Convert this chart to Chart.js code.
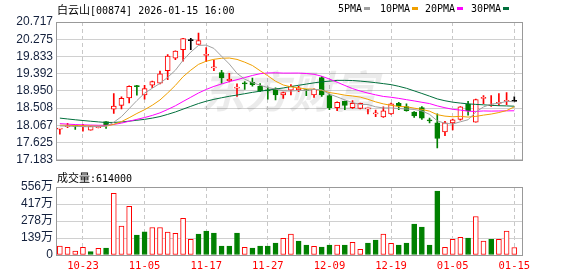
<!DOCTYPE html>
<html>
<head>
<meta charset="utf-8">
<script src="https://cdn.jsdelivr.net/npm/chart.js@4"></script>
<style>
  html, body { margin: 0; padding: 0; background: #fff; }
  #wrap { position: relative; width: 578px; height: 276px; overflow: hidden;
          font-family: "DejaVu Sans Mono", "Noto Sans CJK SC", monospace; font-size: 10px; color: #000; }
  canvas { position: absolute; left: 0; }
  #kline { top: 0; }
  #vol { top: 170px; }
  .txt { position: absolute; white-space: nowrap; line-height: 12px; }
  .cn { font-family: "Noto Sans CJK SC"; font-size: 11px; }
  .key { display: inline-block; width: 6px; height: 3px; margin-left: 2px; vertical-align: 2px; }
</style>
</head>
<body>
<div id="wrap">
  <canvas id="kline" width="578" height="170"></canvas>
  <canvas id="vol" width="578" height="106"></canvas>
  <div class="txt" style="left:57px;top:3px"><span class="cn">白云山</span>[00874] 2026-01-15 16:00</div>
  <div class="txt" style="left:57px;top:171px"><span class="cn">成交量</span>:614000</div>
  <div id="legend"></div>
</div>
<script>
// trading days shown (HK market, 00874)
const dates = [
  "10-20", "10-21", "10-22", "10-23", "10-24", "10-27", "10-28", "10-30", "10-31", "11-03",
  "11-04", "11-05", "11-06", "11-07", "11-10", "11-11", "11-12", "11-13", "11-14", "11-17",
  "11-18", "11-19", "11-20", "11-21", "11-24", "11-25", "11-26", "11-27", "11-28", "12-01",
  "12-02", "12-03", "12-04", "12-05", "12-08", "12-09", "12-10", "12-11", "12-12", "12-15",
  "12-16", "12-17", "12-18", "12-19", "12-22", "12-23", "12-24", "12-29", "12-30", "12-31",
  "01-02", "01-05", "01-06", "01-07", "01-08", "01-09", "01-12", "01-13", "01-14", "01-15"
];

const open = [
  17.97, 18.03, 18.05, 18.03, 17.94, 18.01, 18.16, 18.48, 18.58, 18.77,
  19.07, 18.85, 19.10, 19.15, 19.47, 19.79, 20.01, 20.24, 20.14, 19.86,
  19.54, 19.42, 19.21, 19.02, 19.15, 19.17, 19.07, 18.97, 19.01, 18.85,
  18.97, 18.98, 18.97, 18.85, 19.29, 18.83, 18.52, 18.68, 18.52, 18.50,
  18.49, 18.36, 18.28, 18.36, 18.63, 18.55, 18.41, 18.52, 18.20, 18.13,
  17.90, 18.13, 18.22, 18.61, 18.15, 18.76, 18.57, 18.63, 18.68, 18.68
];
const high = [
  17.99, 18.12, 18.07, 18.09, 18.05, 18.04, 18.16, 18.88, 18.80, 19.08,
  19.09, 19.09, 19.20, 19.46, 19.88, 19.98, 20.30, 20.30, 20.43, 20.06,
  19.74, 19.48, 19.40, 19.13, 19.19, 19.28, 19.14, 19.05, 19.03, 18.92,
  19.11, 19.07, 18.99, 19.00, 19.32, 18.86, 18.67, 18.69, 18.70, 18.64,
  18.51, 18.46, 18.54, 18.64, 18.66, 18.62, 18.42, 18.55, 18.25, 18.36,
  18.17, 18.23, 18.55, 18.68, 18.74, 18.83, 18.83, 18.88, 18.91, 18.80
];
const low = [
  17.84, 18.01, 17.96, 17.92, 17.94, 18.00, 17.99, 18.37, 18.49, 18.64,
  18.84, 18.74, 19.03, 19.13, 19.24, 19.75, 19.71, 20.01, 20.14, 19.70,
  19.47, 19.14, 19.18, 18.81, 18.99, 19.07, 18.93, 18.74, 18.72, 18.76,
  18.85, 18.93, 18.83, 18.78, 18.81, 18.47, 18.44, 18.47, 18.50, 18.49,
  18.36, 18.29, 18.27, 18.35, 18.47, 18.43, 18.27, 18.22, 18.13, 17.49,
  17.80, 17.95, 18.20, 18.33, 18.15, 18.62, 18.55, 18.58, 18.60, 18.68
];
const close = [
  17.98, 18.05, 18.04, 18.04, 18.04, 18.03, 18.06, 18.56, 18.76, 19.07,
  19.06, 19.01, 19.19, 19.39, 19.84, 19.97, 20.29, 20.24, 20.24, 19.88,
  19.55, 19.28, 19.25, 19.04, 19.13, 19.11, 18.95, 18.95, 18.85, 18.91,
  19.07, 19.02, 18.96, 18.99, 18.85, 18.52, 18.66, 18.58, 18.63, 18.63,
  18.50, 18.37, 18.44, 18.62, 18.56, 18.44, 18.31, 18.25, 18.18, 17.73,
  18.13, 18.21, 18.54, 18.44, 18.73, 18.77, 18.58, 18.64, 18.69, 18.68
];
// closes of the 29 sessions before 10-20 (off screen), estimated from where the MA lines start
const earlierClose = [
  18.70, 18.66, 18.62, 18.58, 18.55, 18.52, 18.48, 18.45, 18.42, 18.38,
  18.30, 18.25, 18.20, 18.16, 18.12, 18.10, 18.08, 18.10, 18.09, 18.10,
  18.08, 18.10, 18.09, 18.10, 18.08, 18.06, 18.08, 18.07, 18.06
];

// volume in 万股, and whether the bar is drawn red (1) or green (0)
const volume = [
  73, 62, 33, 62, 27, 54, 57, 505, 236, 397,
  163, 190, 225, 225, 187, 177, 299, 128, 171, 196,
  179, 73, 73, 179, 62, 57, 73, 73, 98, 136,
  171, 114, 81, 71, 65, 81, 81, 81, 103, 46,
  98, 122, 171, 95, 81, 98, 253, 228, 81, 522,
  62, 128, 144, 139, 315, 114, 128, 128, 196, 61.4
];
const volUp = [
  1, 1, 1, 1, 0, 1, 0, 1, 1, 1,
  0, 0, 1, 1, 1, 1, 1, 1, 0, 0,
  0, 0, 0, 0, 1, 0, 0, 0, 0, 1,
  1, 0, 0, 1, 0, 0, 1, 0, 1, 1,
  0, 0, 1, 1, 0, 0, 0, 0, 0, 0,
  1, 1, 1, 0, 1, 1, 0, 1, 1, 1
];

const priceTicks = [17.183, 17.625, 18.067, 18.508, 18.950, 19.392, 19.833, 20.275, 20.717];
const volTicks = [0, 139, 278, 417, 556];
const dateTicks = [3, 11, 19, 27, 35, 43, 51, 59];

const maDays = [5, 10, 20, 30];
const maNames = ["5PMA", "10PMA", "20PMA", "30PMA"];

// styles
const RED = "#ff0000", GREEN = "#008000", BLACK = "#000000";
const maColors = ["#a0a0a0", "#f0a000", "#ff00ff", "#006f3c"];
const legendLeft = [338, 380, 425, 471];
const axisColor = "#14213d";

const allClose = earlierClose.concat(close);
function movingAvg(n) {
  return close.map((_, i) => {
    const end = i + earlierClose.length + 1;
    return allClose.slice(end - n, end).reduce((a, b) => a + b, 0) / n;
  });
}

const candleColor = close.map((c, i) => c > open[i] ? RED : c < open[i] ? GREEN : BLACK);
const bodyFill = close.map((c, i) => c > open[i] ? "#ffffff" : candleColor[i]);

// legend
const legend = document.getElementById("legend");
maNames.forEach((name, k) => {
  const d = document.createElement("div");
  d.className = "txt";
  d.style.left = legendLeft[k] + "px";
  d.style.top = "3px";
  d.innerHTML = name + '<span class="key" style="background:' + maColors[k] + '"></span>';
  legend.appendChild(d);
});

const frame = {
  id: "frame",
  afterDraw(chart) {
    const { ctx, chartArea: a } = chart;
    ctx.save();
    ctx.strokeStyle = "#999";
    ctx.lineWidth = 1;
    ctx.strokeRect(Math.round(a.left) + 0.5, Math.round(a.top) + 0.5,
      Math.round(a.right - a.left), Math.round(a.bottom - a.top));
    ctx.restore();
  }
};

const watermark = {
  id: "watermark",
  beforeDatasetsDraw(chart) {
    const { ctx, chartArea: a } = chart;
    ctx.save();
    ctx.fillStyle = "rgba(0,0,0,0.08)";
    ctx.font = 'italic bold 44px "Noto Sans CJK SC"';
    ctx.textAlign = "center";
    ctx.textBaseline = "middle";
    ctx.fillText("东方财富", (a.left + a.right) / 2, (a.top + a.bottom) / 2);
    ctx.restore();
  }
};

function xAxis(showLabels) {
  return {
    type: "linear",
    min: -0.5,
    max: 60,
    offset: false,
    afterBuildTicks: s => { s.ticks = dateTicks.map(v => ({ value: v })); },
    afterFit: s => { s.height = showLabels ? 21 : 0; },
    grid: { color: "#c8c8c8", drawTicks: false, offset: false, borderDash: [4, 3] },
    border: { display: false, dash: [4, 3] },
    ticks: {
      display: showLabels,
      autoSkip: false,
      maxRotation: 0,
      padding: 5,
      color: RED,
      font: { family: "DejaVu Sans Mono", size: 10.5 },
      callback: v => dates[v]
    }
  };
}

function yAxis(ticks, fmt) {
  return {
    min: ticks[0],
    max: ticks[ticks.length - 1],
    afterBuildTicks: s => { s.ticks = ticks.map(v => ({ value: v })); },
    afterFit: s => { s.width = 56; },
    grid: { color: "#d0d0d0", drawTicks: false },
    border: { display: false },
    ticks: {
      autoSkip: false,
      padding: 3,
      color: axisColor,
      font: { family: "Liberation Sans, Noto Sans CJK SC", size: 12 },
      callback: fmt
    }
  };
}

const common = {
  responsive: false,
  animation: false,
  events: [],
  plugins: { legend: { display: false }, tooltip: { enabled: false } }
};

const maSets = maDays.map((n, k) => ({
  type: "line",
  data: movingAvg(n).map((v, i) => ({ x: i, y: v })),
  borderColor: maColors[k],
  borderWidth: 1,
  pointRadius: 0,
  tension: 0,
  order: 0
}));

new Chart(document.getElementById("kline"), {
  type: "bar",
  data: {
    datasets: [
      ...maSets,
      {
        data: close.map((c, i) => ({ x: i, y: [open[i], c] })),
        backgroundColor: bodyFill,
        borderColor: candleColor,
        borderWidth: 1,
        borderSkipped: false,
        barThickness: 5,
        minBarLength: 1,
        grouped: false,
        order: 1
      },
      {
        data: close.map((c, i) => ({ x: i, y: [low[i], high[i]] })),
        backgroundColor: candleColor,
        borderWidth: 0,
        barThickness: 1,
        grouped: false,
        order: 2
      }
    ]
  },
  options: {
    ...common,
    layout: { padding: { left: 0, right: 56, top: 22, bottom: 5 } },
    scales: {
      x: xAxis(false),
      y: yAxis(priceTicks, v => v.toFixed(3))
    }
  },
  plugins: [watermark, frame]
});

new Chart(document.getElementById("vol"), {
  type: "bar",
  data: {
    datasets: [{
      data: volume.map((v, i) => ({ x: i, y: v })),
      backgroundColor: volUp.map(u => u ? "#ffffff" : GREEN),
      borderColor: volUp.map(u => u ? RED : GREEN),
      borderWidth: 1,
      borderSkipped: false,
      barThickness: 5,
      grouped: false
    }]
  },
  options: {
    ...common,
    layout: { padding: { left: 0, right: 56, top: 17, bottom: 0 } },
    scales: {
      x: xAxis(true),
      y: yAxis(volTicks, v => v === 0 ? "0" : v + "万")
    }
  },
  plugins: [frame]
});
</script>
</body>
</html>
